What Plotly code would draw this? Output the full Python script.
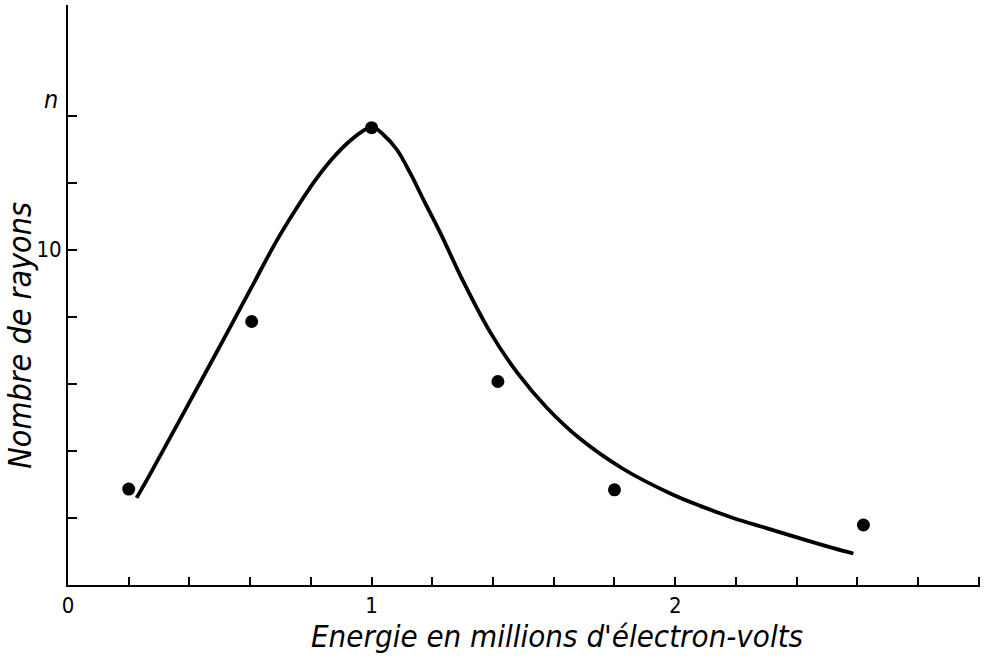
import plotly.graph_objects as go

# Measured points (energy in MeV, number of rays)
energy_pts = [0.20, 0.605, 1.00, 1.416, 1.80, 2.62]
count_pts = [2.86, 7.86, 13.64, 6.07, 2.84, 1.79]

# Smooth hand-drawn curve
curve_energy = [0.226, 0.270, 0.380, 0.490, 0.600, 0.688, 0.775, 0.819, 0.874, 0.929,
                0.973, 1.001, 1.039, 1.083, 1.127, 1.171, 1.226, 1.301, 1.390, 1.479,
                1.578, 1.687, 1.829, 1.984, 2.082, 2.191, 2.303, 2.412, 2.521, 2.587]
curve_count = [2.60, 3.30, 5.12, 6.95, 8.80, 10.28, 11.55, 12.13, 12.75, 13.25,
               13.55, 13.67, 13.43, 12.99, 12.29, 11.49, 10.51, 9.07, 7.55, 6.34,
               5.28, 4.36, 3.46, 2.73, 2.36, 2.00, 1.69, 1.39, 1.10, 0.94]

x_tickvals = [round(0.2 * i, 1) for i in range(16)]
x_ticktext = ["0" if v == 0 else ("1" if v == 1.0 else ("2" if v == 2.0 else "")) for v in x_tickvals]
y_tickvals = [2, 4, 6, 8, 10, 12, 14]
y_ticktext = ["", "", "", "", "10", "", ""]

FONT = "DejaVu Sans Condensed, DejaVu Sans, sans-serif"

fig = go.Figure()
fig.add_trace(go.Scatter(x=curve_energy, y=curve_count, mode="lines",
                         line=dict(color="black", width=3.8, shape="spline", smoothing=1.0),
                         hoverinfo="skip", showlegend=False))
fig.add_trace(go.Scatter(x=energy_pts, y=count_pts, mode="markers",
                         marker=dict(color="black", size=13),
                         showlegend=False))

fig.update_layout(
    width=986, height=658,
    margin=dict(l=68, r=6, t=5, b=73),
    paper_bgcolor="white", plot_bgcolor="white",
    font=dict(family=FONT, color="black", size=22),
)
fig.update_xaxes(range=[0, 3.004], showgrid=False, zeroline=False,
                 showline=True, linecolor="black", linewidth=2,
                 ticks="inside", ticklen=8, tickwidth=1.5, tickcolor="black",
                 tickmode="array", tickvals=x_tickvals, ticktext=x_ticktext,
                 tickfont=dict(size=22, family=FONT))
fig.update_yaxes(range=[0, 17.3], showgrid=False, zeroline=False,
                 showline=True, linecolor="black", linewidth=2,
                 ticks="inside", ticklen=9, tickwidth=1.5, tickcolor="black",
                 tickmode="array", tickvals=y_tickvals, ticktext=y_ticktext,
                 tickfont=dict(size=22, family=FONT))

fig.add_annotation(text="<i>Energie en millions d'électron-volts</i>",
                   x=1.611, y=-0.088, xref="x", yref="paper",
                   showarrow=False, font=dict(size=31, family=FONT),
                   xanchor="center", yanchor="middle")
fig.add_annotation(text="<i>Nombre de rayons</i>",
                   x=-0.0528, y=7.46, xref="paper", yref="y", textangle=-90,
                   showarrow=False, font=dict(size=32, family=FONT),
                   xanchor="center", yanchor="middle")
fig.add_annotation(text="<i>n</i>", x=-0.019, y=14.48, xref="paper", yref="y",
                   showarrow=False, font=dict(size=25, family=FONT),
                   xanchor="center", yanchor="middle")

fig.write_html("out.html", config={"displayModeBar": False},
               post_script="document.body.style.margin='0';")
